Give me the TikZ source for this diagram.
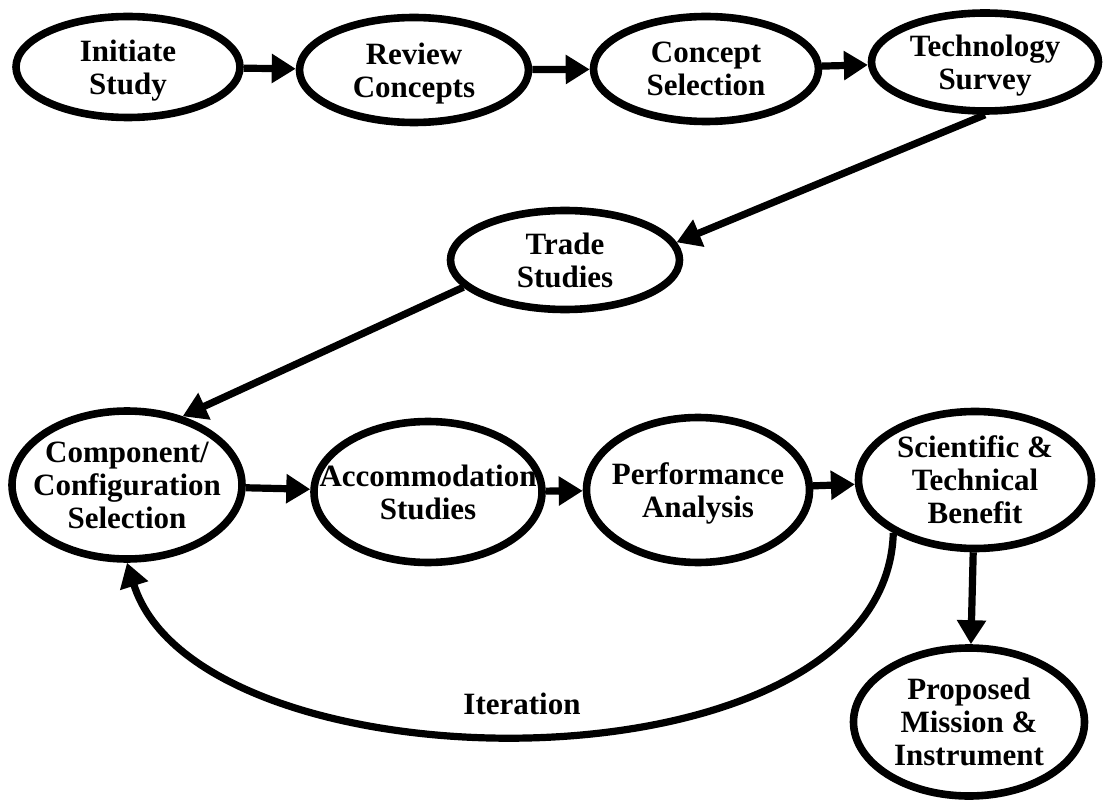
\documentclass[tikz,border=0pt]{standalone}
\usepackage{fontspec}
\setmainfont{Liberation Serif}
\usetikzlibrary{shapes.geometric,arrows.meta}
\tikzset{
  stage/.style 2 args={ellipse,draw,line width=3.8pt,inner sep=-20pt,
    minimum width=#1,minimum height=#2,align=center,text depth=0pt,
    font=\fontsize{15.5pt}{16.5pt}\selectfont\bfseries},
  flow/.style={line width=3.6pt,-{Triangle[length=12pt,width=14pt]}}
}
\begin{document}
\begin{tikzpicture}[x=0.5pt,y=-0.5pt]
\useasboundingbox (0,0) rectangle (1103,802);
\node[stage={112pt}{50.5pt}] (init) at (128,67) {Initiate\\Study};
\node[stage={114.5pt}{52.5pt}] (review) at (414,70) {Review\\Concepts};
\node[stage={112.5pt}{52.5pt}] (concept) at (706,69) {Concept\\Selection};
\node[stage={113.5pt}{49pt}] (tech) at (985,62) {Technology\\Survey};
\node[stage={114.5pt}{49.5pt}] (trade) at (565,260) {Trade\\Studies};
\node[stage={115pt}{74pt}] (comp) at (127,485) {Component/\\Configuration\\Selection};
\node[stage={114pt}{70.5pt}] (accom) at (428,492) {Accommodation\\Studies};
\node[stage={111.5pt}{72.5pt}] (perf) at (698,490) {Performance\\Analysis};
\node[stage={116.5pt}{68.5pt}] (sci) at (975,480) {Scientific \&\\Technical\\Benefit};
\node[stage={115.5pt}{74pt}] (prop) at (969,722) {Proposed\\Mission \&\\Instrument};
\node[font=\fontsize{15.5pt}{16.5pt}\selectfont\bfseries] (iter) at (522,704) {Iteration};
\draw[flow] (init) -- (review);
\draw[flow] (review) -- (concept);
\draw[flow] (concept) -- (tech);
\draw[flow] (tech.south) -- (trade.9);
\draw[flow] (trade.195) -- (comp.51);
\draw[flow] (comp) -- (accom);
\draw[flow] (accom) -- (perf);
\draw[flow] (perf) -- (sci);
\draw[flow] (sci) -- (prop);
\draw[flow] (sci.213) .. controls (885,800) and (200,795) .. (comp.south);
\end{tikzpicture}
\end{document}
